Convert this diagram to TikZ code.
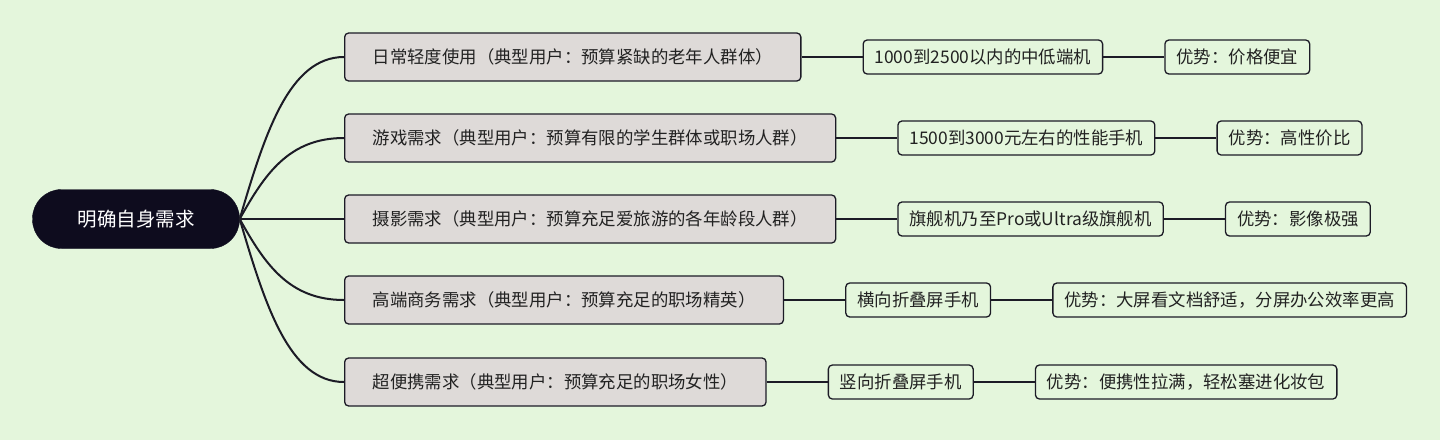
\documentclass[tikz,border=0pt]{standalone}
\usepackage{fontspec}
\setmainfont{Noto Sans CJK SC}
\usetikzlibrary{positioning}
\definecolor{bgcol}{HTML}{E4F6DC}
\definecolor{rootcol}{HTML}{0E0C1E}
\definecolor{needcol}{HTML}{DEDAD8}
\definecolor{linecol}{HTML}{1C1B26}
\definecolor{txtcol}{HTML}{222222}

\begin{document}
\begin{tikzpicture}[x=1pt, y=-1pt,
  rootbox/.style={fill=rootcol, draw=rootcol, text=white, rounded corners=29pt,
    minimum width=207pt, minimum height=59pt, inner sep=0pt,
    font=\fontsize{19.5}{22}\selectfont},
  needbox/.style={fill=needcol, draw=linecol, line width=1.3pt, rounded corners=4pt,
    anchor=west, minimum height=48pt, inner xsep=28pt, inner ysep=0pt, text=txtcol,
    font=\fontsize{17.4}{20}\selectfont},
  leafbox/.style={fill=bgcol, draw=linecol, line width=1.3pt, rounded corners=4pt,
    minimum height=34pt, inner xsep=11.5pt, inner ysep=0pt, text=txtcol,
    font=\fontsize{17.4}{20}\selectfont},
  link/.style={draw=linecol, line width=2pt}]

% Background
\fill[bgcol] (0,0) rectangle (1440,440);
\useasboundingbox (0,0) rectangle (1440,440);

% Root
\node[rootbox] (root) at (136,219) {明确自身需求};

% Needs
\node[needbox] (need1) at (344,57) {日常轻度使用（典型用户：预算紧缺的老年人群体）};
\node[needbox] (need2) at (344,138) {游戏需求（典型用户：预算有限的学生群体或职场人群）};
\node[needbox] (need3) at (344,219) {摄影需求（典型用户：预算充足爱旅游的各年龄段人群）};
\node[needbox] (need4) at (344,300) {高端商务需求（典型用户：预算充足的职场精英）};
\node[needbox] (need5) at (344,382) {超便携需求（典型用户：预算充足的职场女性）};

% Phones
\node[leafbox, right=61pt of need1] (phone1) {1000到2500以内的中低端机};
\node[leafbox, right=61pt of need2] (phone2) {1500到3000元左右的性能手机};
\node[leafbox, right=61pt of need3] (phone3) {旗舰机乃至Pro或Ultra级旗舰机};
\node[leafbox, right=61pt of need4] (phone4) {横向折叠屏手机};
\node[leafbox, right=61pt of need5] (phone5) {竖向折叠屏手机};

% Advantages
\node[leafbox, right=61pt of phone1] (adv1) {优势：价格便宜};
\node[leafbox, right=61pt of phone2] (adv2) {优势：高性价比};
\node[leafbox, right=61pt of phone3] (adv3) {优势：影像极强};
\node[leafbox, right=61pt of phone4] (adv4) {优势：大屏看文档舒适，分屏办公效率更高};
\node[leafbox, right=61pt of phone5] (adv5) {优势：便携性拉满，轻松塞进化妆包};

% Links
\foreach \i/\c in {1/-85, 2/-45, 4/45, 5/85}
  \draw[link] (root.east) .. controls +(25,\c) and +(-55,0) .. (need\i.west);
\draw[link] (root.east) -- (need3.west);
\foreach \i in {1,...,5} {
  \draw[link] (need\i.east) -- (phone\i.west);
  \draw[link] (phone\i.east) -- (adv\i.west);
}
\end{tikzpicture}
\end{document}
